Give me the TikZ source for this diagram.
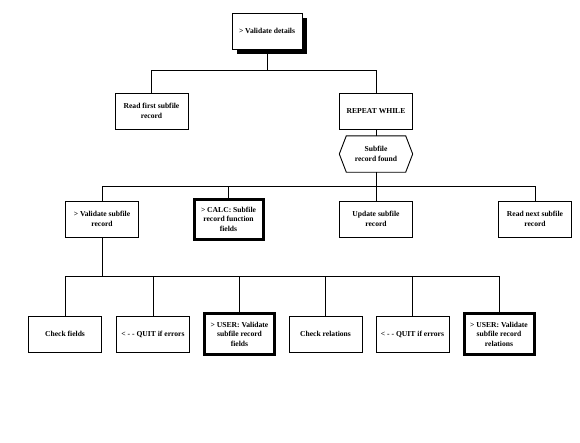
\documentclass[tikz,border=0pt]{standalone}
\usepackage{fontspec}
\setmainfont{Liberation Serif}
\usetikzlibrary{shadows,calc}
\begin{document}
\begin{tikzpicture}[x=1pt,y=-1pt,
  every node/.style={font=\fontsize{7.6}{9.5}\selectfont\bfseries, align=center, inner sep=1pt},
  box/.style={draw, line width=0.9pt, minimum width=73pt, minimum height=36pt, fill=white},
  thickbox/.style={draw, line width=3pt, minimum width=69pt, minimum height=40pt, fill=white},
  shadowbox/.style={box, minimum width=70pt, drop shadow={shadow xshift=5pt, shadow yshift=-5pt, opacity=1, fill=black}},
  conn/.style={line width=0.9pt}]
\useasboundingbox[fill=white] (0,0) rectangle (580,442);

% nodes
\node[shadowbox] (top) at (267,31) {> Validate details};
\node[box] (read1) at (151.5,111) {Read first subfile\\record};
\node[box] (rep) at (376,111) {REPEAT WHILE};
\node[minimum width=59pt, minimum height=36pt] (hex) at (376,154) {Subfile\\record found};
\draw[conn] (hex.north west) -- (hex.north east) -- ($(hex.east)+(7,0)$) -- (hex.south east)
  -- (hex.south west) -- ($(hex.west)+(-7,0)$) -- cycle;

\node[box] (vsr) at (102,219) {> Validate subfile\\record};
\node[thickbox] (calc) at (228.5,219) {> CALC: Subfile\\record function\\fields};
\node[box] (upd) at (376,219) {Update subfile\\record};
\node[box] (rnext) at (535,219) {Read next subfile\\record};

\node[box] (chk) at (65,334) {Check fields};
\node[box] (quit1) at (153,334) {< - - QUIT if errors};
\node[thickbox, minimum width=70pt, minimum height=41pt] (user1) at (239.5,334) {> USER: Validate\\subfile record\\fields};
\node[box] (chkr) at (325.5,334) {Check relations};
\node[box] (quit2) at (412.5,334) {< - - QUIT if errors};
\node[thickbox, minimum width=70pt, minimum height=41pt] (user2) at (499,334) {> USER: Validate\\subfile record\\relations};

% bus coordinates
\coordinate (b1) at (267,70);
\coordinate (b2) at (376,186);
\coordinate (b3) at (102,276);

% connectors
\draw[conn] (top.south) -- (top.south |- b1);
\draw[conn] (read1.north) -- (read1.north |- b1) -- (rep.north |- b1) -- (rep.north);
\draw[conn] (rep.south) -- (hex.north);
\draw[conn] (hex.south) -- (b2);
\draw[conn] (vsr.north) -- (vsr.north |- b2) -- (rnext.north |- b2) -- (rnext.north);
\draw[conn] (calc.north) -- (calc.north |- b2);
\draw[conn] (upd.north) -- (upd.north |- b2);
\draw[conn] (vsr.south) -- (b3);
\draw[conn] (chk.north) -- (chk.north |- b3) -- (user2.north |- b3) -- (user2.north);
\draw[conn] (quit1.north) -- (quit1.north |- b3);
\draw[conn] (user1.north) -- (user1.north |- b3);
\draw[conn] (chkr.north) -- (chkr.north |- b3);
\draw[conn] (quit2.north) -- (quit2.north |- b3);
\end{tikzpicture}
\end{document}
